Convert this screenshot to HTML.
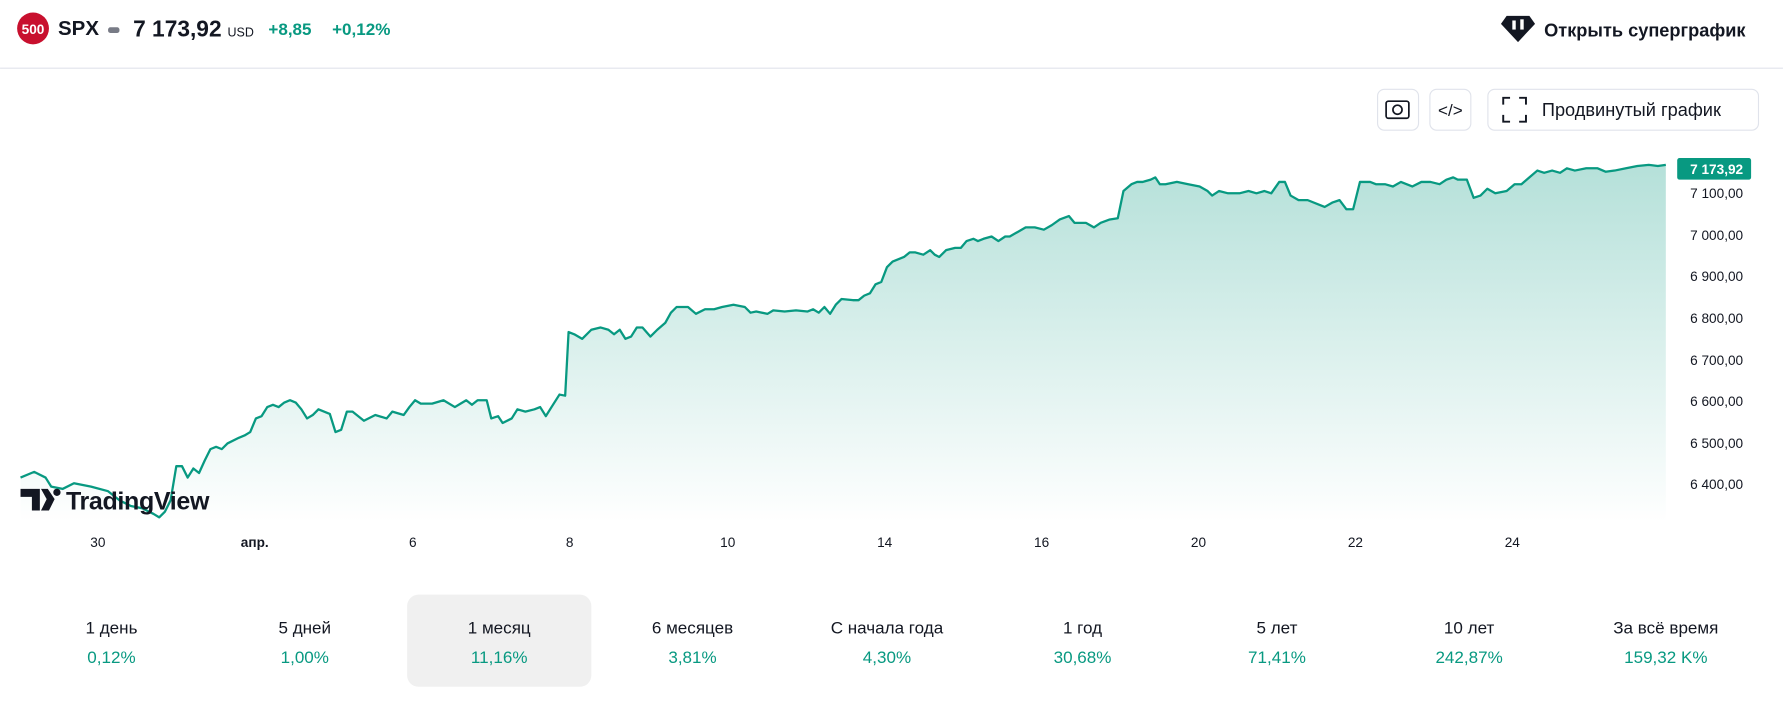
<!DOCTYPE html>
<html><head><meta charset="utf-8"><style>html,body{margin:0;padding:0;background:#fff;overflow:hidden}svg{display:block}text{font-family:"Liberation Sans","DejaVu Sans",sans-serif}</style></head>
<body>
<svg width="1783" height="726" viewBox="0 0 1568 638.5" xmlns="http://www.w3.org/2000/svg">
<defs><linearGradient id="g" x1="0" y1="0" x2="0" y2="1"><stop offset="0" stop-color="#089981" stop-opacity="0.3"/><stop offset="1" stop-color="#089981" stop-opacity="0"/></linearGradient></defs>
<circle cx="29" cy="25" r="14" fill="#c8102e"/>
<text x="29" y="30" font-size="12" font-weight="bold" fill="#fff" text-anchor="middle">500</text>
<text x="51" y="31" font-size="18" font-weight="bold" fill="#131722">SPX</text>
<rect x="95" y="24" width="10" height="5" rx="2" fill="#787b86"/>
<text x="117" y="32" font-size="20" font-weight="bold" fill="#131722">7 173,92</text>
<text x="200" y="32" font-size="11" fill="#131722">USD</text>
<text x="236" y="31" font-size="15" font-weight="bold" fill="#089981">+8,85</text>
<text x="292" y="31" font-size="15" font-weight="bold" fill="#089981">+0,12%</text>
<path d="M1325,14 h20 l5,7 l-15,16 l-15,-16z" fill="#131722"/>
<rect x="1330" y="18" width="3" height="8" fill="#fff"/><rect x="1337" y="17" width="3" height="9" fill="#fff"/>
<text x="1358" y="32" font-size="16" font-weight="bold" fill="#131722">Открыть суперграфик</text>
<line x1="0" y1="60" x2="1568" y2="60" stroke="#e0e3eb"/>
<rect x="1211.5" y="78.5" width="36" height="36" rx="6" fill="#fff" stroke="#e0e3eb"/>
<rect x="1219" y="89" width="20" height="15" rx="2" fill="none" stroke="#131722" stroke-width="1.5"/><circle cx="1229" cy="96.5" r="4" fill="none" stroke="#131722" stroke-width="1.5"/>
<rect x="1257.5" y="78.5" width="36" height="36" rx="6" fill="#fff" stroke="#e0e3eb"/>
<text x="1275.5" y="102" font-size="15" text-anchor="middle" fill="#131722">&lt;/&gt;</text>
<rect x="1308.5" y="78.5" width="238" height="36" rx="6" fill="#fff" stroke="#e0e3eb"/>
<path d="M1322,92 v-6 h6 M1336,86 h6 v6 M1342,101 v6 h-6 M1328,107 h-6 v-6" fill="none" stroke="#131722" stroke-width="1.7"/>
<text x="1356" y="102" font-size="16" fill="#131722">Продвинутый график</text>
<path fill="url(#g)" d="M18,460 L18,420 30,415 40,420 45,428 55,430 65,425 80,428 95,432 105,440 115,445 125,447 135,452 140,455 145,450 150,440 155,410 160,410 165,420 170,412 175,416 180,405 185,395 190,393 195,395 200,390 210,385 215,383 220,380 225,368 230,366 235,358 240,356 245,358 250,354 255,352 260,354 265,360 270,368 275,365 280,360 290,364 295,380 300,378 305,362 310,362 320,370 330,365 340,368 345,362 355,365 360,358 365,352 370,355 380,355 390,352 400,358 405,355 410,352 415,356 420,352 428,352 432,368 438,366 442,372 450,368 455,360 462,362 470,360 475,358 480,366 485,358 492,347 497,348 500,292 505,294 512,298 520,290 528,288 535,290 540,294 545,290 550,298 555,296 560,288 565,288 572,296 578,290 585,284 590,275 595,270 605,270 612,276 620,272 628,272 635,270 645,268 655,270 660,275 665,274 675,276 680,273 690,274 700,273 710,274 715,272 720,275 725,270 730,276 735,268 740,263 750,264 755,264 760,260 765,258 770,250 775,248 780,235 785,230 795,226 800,222 805,222 812,224 818,220 822,224 826,226 832,220 840,218 845,218 850,212 856,210 860,212 865,210 872,208 878,212 884,208 888,208 895,204 902,200 910,200 918,202 925,198 932,193 940,190 945,196 955,196 962,200 968,196 976,193 983,192 988,168 995,162 1000,160 1005,160 1012,158 1016,156 1020,162 1025,162 1035,160 1045,162 1055,164 1062,168 1066,172 1072,168 1080,170 1090,170 1098,168 1105,170 1112,168 1118,170 1125,160 1130,160 1135,172 1142,176 1150,176 1160,180 1165,182 1172,178 1178,176 1184,184 1190,184 1196,160 1205,160 1210,162 1218,162 1225,164 1232,160 1242,164 1250,160 1258,160 1266,162 1272,158 1278,156 1282,158 1290,158 1296,174 1302,172 1308,166 1315,170 1325,168 1332,162 1338,162 1345,156 1352,150 1358,152 1365,150 1372,152 1378,148 1385,150 1395,148 1405,148 1412,151 1420,150 1430,148 1440,146 1450,145 1458,146 1465,145 L1465,460Z"/>
<polyline fill="none" stroke="#089981" stroke-width="2" stroke-linejoin="round" points="18,420 30,415 40,420 45,428 55,430 65,425 80,428 95,432 105,440 115,445 125,447 135,452 140,455 145,450 150,440 155,410 160,410 165,420 170,412 175,416 180,405 185,395 190,393 195,395 200,390 210,385 215,383 220,380 225,368 230,366 235,358 240,356 245,358 250,354 255,352 260,354 265,360 270,368 275,365 280,360 290,364 295,380 300,378 305,362 310,362 320,370 330,365 340,368 345,362 355,365 360,358 365,352 370,355 380,355 390,352 400,358 405,355 410,352 415,356 420,352 428,352 432,368 438,366 442,372 450,368 455,360 462,362 470,360 475,358 480,366 485,358 492,347 497,348 500,292 505,294 512,298 520,290 528,288 535,290 540,294 545,290 550,298 555,296 560,288 565,288 572,296 578,290 585,284 590,275 595,270 605,270 612,276 620,272 628,272 635,270 645,268 655,270 660,275 665,274 675,276 680,273 690,274 700,273 710,274 715,272 720,275 725,270 730,276 735,268 740,263 750,264 755,264 760,260 765,258 770,250 775,248 780,235 785,230 795,226 800,222 805,222 812,224 818,220 822,224 826,226 832,220 840,218 845,218 850,212 856,210 860,212 865,210 872,208 878,212 884,208 888,208 895,204 902,200 910,200 918,202 925,198 932,193 940,190 945,196 955,196 962,200 968,196 976,193 983,192 988,168 995,162 1000,160 1005,160 1012,158 1016,156 1020,162 1025,162 1035,160 1045,162 1055,164 1062,168 1066,172 1072,168 1080,170 1090,170 1098,168 1105,170 1112,168 1118,170 1125,160 1130,160 1135,172 1142,176 1150,176 1160,180 1165,182 1172,178 1178,176 1184,184 1190,184 1196,160 1205,160 1210,162 1218,162 1225,164 1232,160 1242,164 1250,160 1258,160 1266,162 1272,158 1278,156 1282,158 1290,158 1296,174 1302,172 1308,166 1315,170 1325,168 1332,162 1338,162 1345,156 1352,150 1358,152 1365,150 1372,152 1378,148 1385,150 1395,148 1405,148 1412,151 1420,150 1430,148 1440,146 1450,145 1458,146 1465,145"/>
<g font-size="12" fill="#131722" text-anchor="end">
<text x="1533" y="174">7 100,00</text><text x="1533" y="211">7 000,00</text><text x="1533" y="247">6 900,00</text><text x="1533" y="284">6 800,00</text><text x="1533" y="321">6 700,00</text><text x="1533" y="357">6 600,00</text><text x="1533" y="394">6 500,00</text><text x="1533" y="430">6 400,00</text>
</g>
<rect x="1475" y="139" width="65" height="19" rx="2" fill="#089981"/>
<text x="1533" y="153" font-size="12" font-weight="bold" fill="#fff" text-anchor="end">7 173,92</text>
<g font-size="12" fill="#131722" text-anchor="middle">
<text x="86" y="481">30</text><text x="224" y="481" font-weight="bold">апр.</text><text x="363" y="481">6</text><text x="501" y="481">8</text><text x="640" y="481">10</text><text x="778" y="481">14</text><text x="916" y="481">16</text><text x="1054" y="481">20</text><text x="1192" y="481">22</text><text x="1330" y="481">24</text>
</g>
<path d="M18,430 h17 v19 h-7 v-12 h-10z M36,430 h6 l6,9 l-5,10 h-7 l5,-10z" fill="#131722"/>
<circle cx="50" cy="433" r="3.2" fill="#131722"/>
<text x="58" y="448" font-size="22" font-weight="bold" fill="#131722" letter-spacing="-0.3">TradingView</text>
<rect x="358" y="523" width="162" height="81" rx="10" fill="#f0f0f0"/>
<g font-size="15" text-anchor="middle">
<g fill="#131722"><text x="98" y="557">1 день</text><text x="268" y="557">5 дней</text><text x="439" y="557">1 месяц</text><text x="609" y="557">6 месяцев</text><text x="780" y="557">С начала года</text><text x="952" y="557">1 год</text><text x="1123" y="557">5 лет</text><text x="1292" y="557">10 лет</text><text x="1465" y="557">За всё время</text></g>
<g fill="#089981"><text x="98" y="583">0,12%</text><text x="268" y="583">1,00%</text><text x="439" y="583">11,16%</text><text x="609" y="583">3,81%</text><text x="780" y="583">4,30%</text><text x="952" y="583">30,68%</text><text x="1123" y="583">71,41%</text><text x="1292" y="583">242,87%</text><text x="1465" y="583">159,32 K%</text></g>
</g>
</svg>
</body></html>
